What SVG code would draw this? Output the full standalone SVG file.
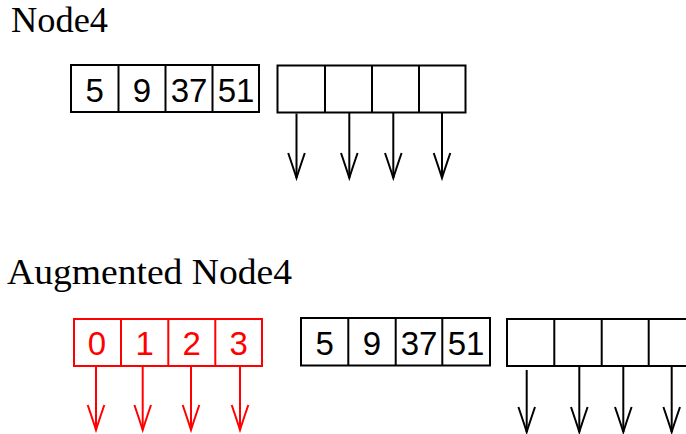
<svg xmlns="http://www.w3.org/2000/svg" width="686" height="434" viewBox="0 0 686 434">
  <style>
    .title { font-family: "Liberation Serif", "Times New Roman", serif; font-size: 36px; fill: #000; }
    .box { fill: #fff; stroke: #000; stroke-width: 2; }
    .div { stroke: #000; stroke-width: 2; }
    .num { font-family: "Liberation Sans", Arial, sans-serif; font-size: 33px; fill: #000; text-anchor: middle; }
    .red .box { stroke: #ff0000; }
    .red .div { stroke: #ff0000; }
    .red .num { fill: #ff0000; }
    .arr { stroke: #000; stroke-width: 2; fill: none; marker-end: url(#headK); }
    .arr.r { stroke: #ff0000; marker-end: url(#headR); }
  </style>
  <defs>
    <marker id="headK" viewBox="-27 -10 29 20" markerWidth="29" markerHeight="20" refX="0" refY="0" orient="auto" markerUnits="userSpaceOnUse" overflow="visible">
      <path d="M -25,-8.3 Q -8,-2.5 0,0 Q -8,2.5 -25,8.3" fill="none" stroke="#000" stroke-width="2"/>
    </marker>
    <marker id="headR" viewBox="-27 -10 29 20" markerWidth="29" markerHeight="20" refX="0" refY="0" orient="auto" markerUnits="userSpaceOnUse" overflow="visible">
      <path d="M -25,-8.3 Q -8,-2.5 0,0 Q -8,2.5 -25,8.3" fill="none" stroke="#ff0000" stroke-width="2"/>
    </marker>
  </defs>

  <g id="title-node4">
    <text class="title" x="11" y="32" textLength="97" lengthAdjust="spacingAndGlyphs">Node4</text>
  </g>

  <g id="node4-keys">
    <rect class="box" x="71" y="65" width="188" height="47"/>
    <line class="div" x1="118.5" y1="65" x2="118.5" y2="112"/>
    <line class="div" x1="165.5" y1="65" x2="165.5" y2="112"/>
    <line class="div" x1="212.5" y1="65" x2="212.5" y2="112"/>
    <text class="num" x="94.8" y="102">5</text>
    <text class="num" x="142" y="102">9</text>
    <text class="num" x="189" y="102">37</text>
    <text class="num" x="236" y="102">51</text>
  </g>

  <g id="node4-pointers">
    <rect class="box" x="277.5" y="65.5" width="188" height="47"/>
    <line class="div" x1="325" y1="65.5" x2="325" y2="112.5"/>
    <line class="div" x1="372" y1="65.5" x2="372" y2="112.5"/>
    <line class="div" x1="419" y1="65.5" x2="419" y2="112.5"/>
  </g>

  <g id="title-augmented">
    <text class="title" x="7" y="284.3" textLength="285" lengthAdjust="spacingAndGlyphs">Augmented Node4</text>
  </g>

  <g id="aug-index" class="red">
    <rect class="box" x="74" y="319" width="188" height="47"/>
    <line class="div" x1="121" y1="319" x2="121" y2="366"/>
    <line class="div" x1="168.3" y1="319" x2="168.3" y2="366"/>
    <line class="div" x1="215.3" y1="319" x2="215.3" y2="366"/>
    <text class="num" x="97" y="355">0</text>
    <text class="num" x="144.7" y="355">1</text>
    <text class="num" x="191.8" y="355">2</text>
    <text class="num" x="238.6" y="355">3</text>
  </g>

  <g id="aug-keys">
    <rect class="box" x="301" y="318" width="189" height="47.5"/>
    <line class="div" x1="348.3" y1="318" x2="348.3" y2="365.5"/>
    <line class="div" x1="395.7" y1="318" x2="395.7" y2="365.5"/>
    <line class="div" x1="442.3" y1="318" x2="442.3" y2="365.5"/>
    <text class="num" x="324.6" y="354.5">5</text>
    <text class="num" x="372" y="354.5">9</text>
    <text class="num" x="419" y="354.5">37</text>
    <text class="num" x="466" y="354.5">51</text>
  </g>

  <g id="aug-pointers">
    <rect class="box" x="507" y="319" width="188" height="47"/>
    <line class="div" x1="554.3" y1="319" x2="554.3" y2="366"/>
    <line class="div" x1="601.7" y1="319" x2="601.7" y2="366"/>
    <line class="div" x1="648.7" y1="319" x2="648.7" y2="366"/>
  </g>

  <g id="connectors">
    <line class="arr" x1="296.5" y1="113.5" x2="296.5" y2="178"/>
    <line class="arr" x1="349.3" y1="112.5" x2="349.3" y2="178"/>
    <line class="arr" x1="393.3" y1="112.5" x2="393.3" y2="178"/>
    <line class="arr" x1="442" y1="112.5" x2="442" y2="178"/>

    <line class="arr r" x1="96" y1="366" x2="96" y2="430"/>
    <line class="arr r" x1="142.7" y1="366" x2="142.7" y2="430"/>
    <line class="arr r" x1="191" y1="366" x2="191" y2="430"/>
    <line class="arr r" x1="240" y1="366" x2="240" y2="430"/>

    <line class="arr" x1="526.7" y1="370" x2="526.7" y2="432"/>
    <line class="arr" x1="579.3" y1="366" x2="579.3" y2="432"/>
    <line class="arr" x1="623.3" y1="366" x2="623.3" y2="432"/>
    <line class="arr" x1="671.7" y1="366" x2="671.7" y2="432"/>
  </g>
</svg>
